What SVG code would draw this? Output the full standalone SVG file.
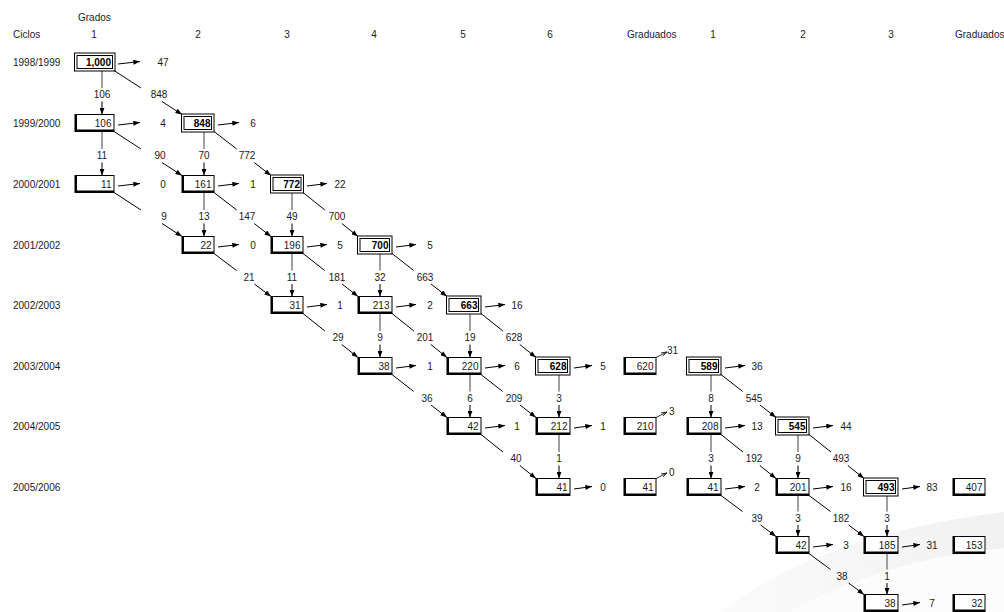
<svg xmlns="http://www.w3.org/2000/svg" width="1004" height="612" viewBox="0 0 1004 612">
<defs>
<marker id="ah" viewBox="0 0 8 6" refX="8" refY="3" markerWidth="7" markerHeight="5" markerUnits="userSpaceOnUse" orient="auto"><path d="M0,0 L8,3 L0,6 z" fill="#000"/></marker>
<marker id="oh" viewBox="0 0 8 6" refX="8" refY="3" markerWidth="6" markerHeight="5" markerUnits="userSpaceOnUse" orient="auto"><path d="M0,0.5 L8,3 L0,5.5" fill="none" stroke="#000" stroke-width="1"/></marker>
<linearGradient id="wm" x1="0" y1="0" x2="1" y2="0"><stop offset="0" stop-color="#fbfbfb"/><stop offset="1" stop-color="#f1f1f1"/></linearGradient>
</defs>
<style>
text{font-family:"Liberation Sans",Arial,sans-serif;font-size:10px;fill:#1a1a1a}
.m{text-anchor:middle}
.e{text-anchor:end}
.b{font-weight:bold;fill:#000}
.bx{fill:#fff;stroke:#000;stroke-width:1}
.sh{fill:none;stroke:#000;stroke-width:2}
.ln{fill:none;stroke:#000;stroke-width:1}
.ar{fill:none;stroke:#000;stroke-width:1;marker-end:url(#ah)}
.vg{fill:none;stroke:#777;stroke-width:1.4}
.sm{fill:none;stroke:#000;stroke-width:0.8;marker-end:url(#oh)}
</style>
<rect width="1004" height="612" fill="#fff"/>
<path d="M720 612 Q820 535 1004 512 L1004 612 Z" fill="url(#wm)"/>
<path d="M790 612 Q880 560 1004 548 L1004 612 Z" fill="#fcfcfc"/>

<g id="headers">
<text x="78" y="21">Grados</text>
<text x="13" y="38">Ciclos</text>
<text x="94" y="38" class="m">1</text>
<text x="198" y="38" class="m">2</text>
<text x="287" y="38" class="m">3</text>
<text x="374" y="38" class="m">4</text>
<text x="463" y="38" class="m">5</text>
<text x="550" y="38" class="m">6</text>
<text x="627" y="38">Graduados</text>
<text x="713" y="38" class="m">1</text>
<text x="803" y="38" class="m">2</text>
<text x="891" y="38" class="m">3</text>
<text x="955" y="38">Graduados</text>
</g>
<g id="rowlabels">
<text x="13" y="66">1998/1999</text>
<text x="13" y="127">1999/2000</text>
<text x="13" y="188">2000/2001</text>
<text x="13" y="249">2001/2002</text>
<text x="13" y="309">2002/2003</text>
<text x="13" y="370">2003/2004</text>
<text x="13" y="430">2004/2005</text>
<text x="13" y="491">2005/2006</text>
</g>

<g id="connectors">
<path class="ar" d="M118 64 L140 61.5"/>
<path class="ar" d="M118 125 L140 122.5"/>
<path class="ar" d="M218 125 L239 122.5"/>
<path class="ar" d="M118 186 L140 183.5"/>
<path class="ar" d="M218 186 L239 183.5"/>
<path class="ar" d="M307 186 L327 183.5"/>
<path class="ar" d="M218 247 L239 244.5"/>
<path class="ar" d="M307 247 L327 244.5"/>
<path class="ar" d="M396 247 L416 244.5"/>
<path class="ar" d="M307 307 L327 304.5"/>
<path class="ar" d="M396 307 L416 304.5"/>
<path class="ar" d="M485 307 L505 304.5"/>
<path class="ar" d="M396 368 L416 365.5"/>
<path class="ar" d="M485 368 L505 365.5"/>
<path class="ar" d="M574 368 L592 365.5"/>
<path class="ar" d="M725 368 L745 365.5"/>
<path class="ar" d="M485 428 L505 425.5"/>
<path class="ar" d="M574 428 L592 425.5"/>
<path class="ar" d="M725 428 L745 425.5"/>
<path class="ar" d="M813 428 L833 425.5"/>
<path class="ar" d="M574 489 L592 486.5"/>
<path class="ar" d="M725 489 L745 486.5"/>
<path class="ar" d="M813 489 L833 486.5"/>
<path class="ar" d="M902 489 L920 486.5"/>
<path class="ar" d="M813 547 L833 544.5"/>
<path class="ar" d="M902 547 L920 544.5"/>
<path class="ar" d="M902 605 L920 602.5"/>
<path class="vg" d="M102 70.5 V88"/><path class="ar" d="M102 101.5 V114.5"/>
<path class="vg" d="M102 131.5 V149"/><path class="ar" d="M102 162.5 V175.5"/>
<path class="vg" d="M204 131.5 V149"/><path class="ar" d="M204 162.5 V175.5"/>
<path class="vg" d="M204 192.5 V210"/><path class="ar" d="M204 223.5 V236.5"/>
<path class="vg" d="M292 192.5 V210"/><path class="ar" d="M292 223.5 V236.5"/>
<path class="vg" d="M292 253.5 V270.5"/><path class="ar" d="M292 284 V296.5"/>
<path class="vg" d="M380 253.5 V270.5"/><path class="ar" d="M380 284 V296.5"/>
<path class="vg" d="M380 313.5 V331"/><path class="ar" d="M380 344.5 V357.5"/>
<path class="vg" d="M470 313.5 V331"/><path class="ar" d="M470 344.5 V357.5"/>
<path class="vg" d="M470 374.5 V391.5"/><path class="ar" d="M470 405 V417.5"/>
<path class="vg" d="M559 374.5 V391.5"/><path class="ar" d="M559 405 V417.5"/>
<path class="vg" d="M711 374.5 V391.5"/><path class="ar" d="M711 405 V417.5"/>
<path class="vg" d="M559 434.5 V452"/><path class="ar" d="M559 465.5 V478.5"/>
<path class="vg" d="M711 434.5 V452"/><path class="ar" d="M711 465.5 V478.5"/>
<path class="vg" d="M798 434.5 V452"/><path class="ar" d="M798 465.5 V478.5"/>
<path class="vg" d="M798 495.5 V511.5"/><path class="ar" d="M798 525 V536.5"/>
<path class="vg" d="M887 495.5 V511.5"/><path class="ar" d="M887 525 V536.5"/>
<path class="vg" d="M887 553.5 V569.5"/><path class="ar" d="M887 583 V594.5"/>
<path class="ln" d="M114 70.5 L141 88"/><path class="ar" d="M162 101.5 L182 114.5"/>
<path class="ln" d="M114 131.5 L141 149"/><path class="ar" d="M162 162.5 L182 175.5"/>
<path class="ln" d="M214 131.5 L236.7 149"/><path class="ar" d="M254.2 162.5 L271 175.5"/>
<path class="ln" d="M114 192.5 L141 210"/><path class="ar" d="M162 223.5 L182 236.5"/>
<path class="ln" d="M214 192.5 L236.7 210"/><path class="ar" d="M254.2 223.5 L271 236.5"/>
<path class="ln" d="M303 192.5 L324.9 210"/><path class="ar" d="M341.8 223.5 L358 236.5"/>
<path class="ln" d="M214 253.5 L236.5 270.5"/><path class="ar" d="M254.4 284 L271 296.5"/>
<path class="ln" d="M303 253.5 L324.7 270.5"/><path class="ar" d="M342 284 L358 296.5"/>
<path class="ln" d="M392 253.5 L413.7 270.5"/><path class="ar" d="M431 284 L447 296.5"/>
<path class="ln" d="M303 313.5 L324.9 331"/><path class="ar" d="M341.8 344.5 L358 357.5"/>
<path class="ln" d="M392 313.5 L413.9 331"/><path class="ar" d="M430.8 344.5 L447 357.5"/>
<path class="ln" d="M481 313.5 L502.9 331"/><path class="ar" d="M519.8 344.5 L536 357.5"/>
<path class="ln" d="M392 374.5 L413.7 391.5"/><path class="ar" d="M431 405 L447 417.5"/>
<path class="ln" d="M481 374.5 L502.7 391.5"/><path class="ar" d="M520 405 L536 417.5"/>
<path class="ln" d="M721 374.5 L742.7 391.5"/><path class="ar" d="M760 405 L776 417.5"/>
<path class="ln" d="M481 434.5 L502.9 452"/><path class="ar" d="M519.8 465.5 L536 478.5"/>
<path class="ln" d="M721 434.5 L742.9 452"/><path class="ar" d="M759.8 465.5 L776 478.5"/>
<path class="ln" d="M809 434.5 L830.9 452"/><path class="ar" d="M847.8 465.5 L864 478.5"/>
<path class="ln" d="M721 495.5 L742.5 511.5"/><path class="ar" d="M760.6 525 L776 536.5"/>
<path class="ln" d="M809 495.5 L830.5 511.5"/><path class="ar" d="M848.6 525 L864 536.5"/>
<path class="ln" d="M809 553.5 L830.5 569.5"/><path class="ar" d="M848.6 583 L864 594.5"/>
<path class="sm" d="M656 357.5 L667 352"/>
<path class="sm" d="M656 417.5 L667 412"/>
<path class="sm" d="M656 478.5 L667 473"/>
</g>

<g id="flowlabels">
<text x="163" y="66" class="m">47</text>
<text x="163" y="127" class="m">4</text>
<text x="253" y="127" class="m">6</text>
<text x="163" y="188" class="m">0</text>
<text x="253" y="188" class="m">1</text>
<text x="340" y="188" class="m">22</text>
<text x="253" y="249" class="m">0</text>
<text x="340" y="249" class="m">5</text>
<text x="430" y="249" class="m">5</text>
<text x="340" y="309" class="m">1</text>
<text x="430" y="309" class="m">2</text>
<text x="517" y="309" class="m">16</text>
<text x="430" y="370" class="m">1</text>
<text x="517" y="370" class="m">6</text>
<text x="603" y="370" class="m">5</text>
<text x="757" y="370" class="m">36</text>
<text x="517" y="430" class="m">1</text>
<text x="603" y="430" class="m">1</text>
<text x="757" y="430" class="m">13</text>
<text x="846" y="430" class="m">44</text>
<text x="603" y="491" class="m">0</text>
<text x="757" y="491" class="m">2</text>
<text x="846" y="491" class="m">16</text>
<text x="932" y="491" class="m">83</text>
<text x="846" y="549" class="m">3</text>
<text x="932" y="549" class="m">31</text>
<text x="932" y="607" class="m">7</text>
<text x="102" y="98" class="m">106</text>
<text x="102" y="159" class="m">11</text>
<text x="204" y="159" class="m">70</text>
<text x="204" y="220" class="m">13</text>
<text x="292" y="220" class="m">49</text>
<text x="292" y="280.5" class="m">11</text>
<text x="380" y="280.5" class="m">32</text>
<text x="380" y="341" class="m">9</text>
<text x="470" y="341" class="m">19</text>
<text x="470" y="401.5" class="m">6</text>
<text x="559" y="401.5" class="m">3</text>
<text x="711" y="401.5" class="m">8</text>
<text x="559" y="462" class="m">1</text>
<text x="711" y="462" class="m">3</text>
<text x="798" y="462" class="m">9</text>
<text x="798" y="521.5" class="m">3</text>
<text x="887" y="521.5" class="m">3</text>
<text x="887" y="579.5" class="m">1</text>
<text x="159" y="98" class="m">848</text>
<text x="160" y="159" class="m">90</text>
<text x="247" y="159" class="m">772</text>
<text x="164" y="220" class="m">9</text>
<text x="247" y="220" class="m">147</text>
<text x="337" y="220" class="m">700</text>
<text x="249" y="280.5" class="m">21</text>
<text x="337" y="280.5" class="m">181</text>
<text x="425" y="280.5" class="m">663</text>
<text x="338" y="341" class="m">29</text>
<text x="425" y="341" class="m">201</text>
<text x="514" y="341" class="m">628</text>
<text x="427" y="401.5" class="m">36</text>
<text x="514" y="401.5" class="m">209</text>
<text x="754" y="401.5" class="m">545</text>
<text x="516" y="462" class="m">40</text>
<text x="754" y="462" class="m">192</text>
<text x="841" y="462" class="m">493</text>
<text x="757" y="521.5" class="m">39</text>
<text x="841" y="521.5" class="m">182</text>
<text x="842" y="579.5" class="m">38</text>
<text x="667" y="354">31</text>
<text x="669" y="415">3</text>
<text x="669" y="476">0</text>
</g>

<g id="n-r0-c1"><rect class="bx" x="74.5" y="53" width="40.5" height="18"/><rect class="bx" x="77" y="55.5" width="35.5" height="13"/><text x="111" y="66" class="e b">1,000</text></g>
<g id="n-r1-c1"><rect class="bx" x="75" y="114.5" width="39" height="17"/><path class="sh" d="M76 114.5 V130.5 H114"/><text x="111.5" y="127" class="e">106</text></g>
<g id="n-r1-c2"><rect class="bx" x="181.5" y="114" width="32.5" height="18"/><rect class="bx" x="184" y="116.5" width="27.5" height="13"/><text x="210.5" y="127" class="e b">848</text></g>
<g id="n-r2-c1"><rect class="bx" x="75" y="175.5" width="39" height="17"/><path class="sh" d="M76 175.5 V191.5 H114"/><text x="111.5" y="188" class="e">11</text></g>
<g id="n-r2-c2"><rect class="bx" x="182" y="175.5" width="32" height="17"/><path class="sh" d="M183 175.5 V191.5 H214"/><text x="211.5" y="188" class="e">161</text></g>
<g id="n-r2-c3"><rect class="bx" x="270.5" y="175" width="33" height="18"/><rect class="bx" x="273" y="177.5" width="28" height="13"/><text x="300" y="188" class="e b">772</text></g>
<g id="n-r3-c2"><rect class="bx" x="182" y="236.5" width="32" height="17"/><path class="sh" d="M183 236.5 V252.5 H214"/><text x="211.5" y="249" class="e">22</text></g>
<g id="n-r3-c3"><rect class="bx" x="271" y="236.5" width="32" height="17"/><path class="sh" d="M272 236.5 V252.5 H303"/><text x="300.5" y="249" class="e">196</text></g>
<g id="n-r3-c4"><rect class="bx" x="357.5" y="236" width="34.5" height="18"/><rect class="bx" x="360" y="238.5" width="29.5" height="13"/><text x="388.5" y="249" class="e b">700</text></g>
<g id="n-r4-c3"><rect class="bx" x="271" y="296.5" width="32" height="17"/><path class="sh" d="M272 296.5 V312.5 H303"/><text x="300.5" y="309" class="e">31</text></g>
<g id="n-r4-c4"><rect class="bx" x="358" y="296.5" width="34" height="17"/><path class="sh" d="M359 296.5 V312.5 H392"/><text x="389.5" y="309" class="e">213</text></g>
<g id="n-r4-c5"><rect class="bx" x="446.5" y="296" width="34.5" height="18"/><rect class="bx" x="449" y="298.5" width="29.5" height="13"/><text x="477.5" y="309" class="e b">663</text></g>
<g id="n-r5-c4"><rect class="bx" x="358" y="357.5" width="34" height="17"/><path class="sh" d="M359 357.5 V373.5 H392"/><text x="389.5" y="370" class="e">38</text></g>
<g id="n-r5-c5"><rect class="bx" x="447" y="357.5" width="34" height="17"/><path class="sh" d="M448 357.5 V373.5 H481"/><text x="478.5" y="370" class="e">220</text></g>
<g id="n-r5-c6"><rect class="bx" x="535.5" y="357" width="34.5" height="18"/><rect class="bx" x="538" y="359.5" width="29.5" height="13"/><text x="566.5" y="370" class="e b">628</text></g>
<g id="n-r5-g1"><rect class="bx" x="624" y="357.5" width="32" height="17"/><path class="sh" d="M625 357.5 V373.5 H656"/><text x="653.5" y="370" class="e">620</text></g>
<g id="n-r5-d1"><rect class="bx" x="686.5" y="357" width="34.5" height="18"/><rect class="bx" x="689" y="359.5" width="29.5" height="13"/><text x="717.5" y="370" class="e b">589</text></g>
<g id="n-r6-c5"><rect class="bx" x="447" y="417.5" width="34" height="17"/><path class="sh" d="M448 417.5 V433.5 H481"/><text x="478.5" y="430" class="e">42</text></g>
<g id="n-r6-c6"><rect class="bx" x="536" y="417.5" width="34" height="17"/><path class="sh" d="M537 417.5 V433.5 H570"/><text x="567.5" y="430" class="e">212</text></g>
<g id="n-r6-g1"><rect class="bx" x="624" y="417.5" width="32" height="17"/><path class="sh" d="M625 417.5 V433.5 H656"/><text x="653.5" y="430" class="e">210</text></g>
<g id="n-r6-d1"><rect class="bx" x="687" y="417.5" width="34" height="17"/><path class="sh" d="M688 417.5 V433.5 H721"/><text x="718.5" y="430" class="e">208</text></g>
<g id="n-r6-d2"><rect class="bx" x="775.5" y="417" width="33.5" height="18"/><rect class="bx" x="778" y="419.5" width="28.5" height="13"/><text x="805.5" y="430" class="e b">545</text></g>
<g id="n-r7-c6"><rect class="bx" x="536" y="478.5" width="34" height="17"/><path class="sh" d="M537 478.5 V494.5 H570"/><text x="567.5" y="491" class="e">41</text></g>
<g id="n-r7-g1"><rect class="bx" x="624" y="478.5" width="32" height="17"/><path class="sh" d="M625 478.5 V494.5 H656"/><text x="653.5" y="491" class="e">41</text></g>
<g id="n-r7-d1"><rect class="bx" x="687" y="478.5" width="34" height="17"/><path class="sh" d="M688 478.5 V494.5 H721"/><text x="718.5" y="491" class="e">41</text></g>
<g id="n-r7-d2"><rect class="bx" x="776" y="478.5" width="33" height="17"/><path class="sh" d="M777 478.5 V494.5 H809"/><text x="806.5" y="491" class="e">201</text></g>
<g id="n-r7-d3"><rect class="bx" x="863.5" y="478" width="34.5" height="18"/><rect class="bx" x="866" y="480.5" width="29.5" height="13"/><text x="894.5" y="491" class="e b">493</text></g>
<g id="n-r7-g2"><rect class="bx" x="953" y="478.5" width="32" height="17"/><path class="sh" d="M954 478.5 V494.5 H985"/><text x="982.5" y="491" class="e">407</text></g>
<g id="n-r8-d2"><rect class="bx" x="776" y="536.5" width="33" height="17"/><path class="sh" d="M777 536.5 V552.5 H809"/><text x="806.5" y="549" class="e">42</text></g>
<g id="n-r8-d3"><rect class="bx" x="864" y="536.5" width="34" height="17"/><path class="sh" d="M865 536.5 V552.5 H898"/><text x="895.5" y="549" class="e">185</text></g>
<g id="n-r8-g2"><rect class="bx" x="953" y="536.5" width="32" height="17"/><path class="sh" d="M954 536.5 V552.5 H985"/><text x="982.5" y="549" class="e">153</text></g>
<g id="n-r9-d3"><rect class="bx" x="864" y="594.5" width="34" height="17"/><path class="sh" d="M865 594.5 V610.5 H898"/><text x="895.5" y="607" class="e">38</text></g>
<g id="n-r9-g2"><rect class="bx" x="953" y="594.5" width="32" height="17"/><path class="sh" d="M954 594.5 V610.5 H985"/><text x="982.5" y="607" class="e">32</text></g>
</svg>
